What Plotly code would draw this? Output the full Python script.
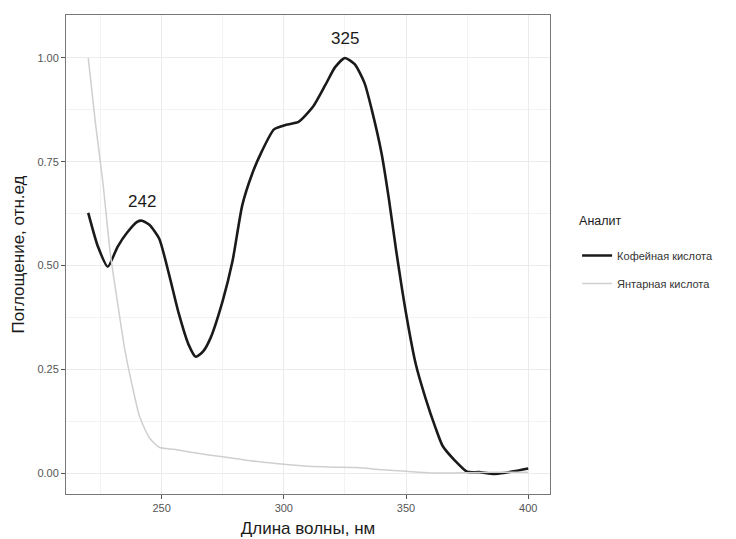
import plotly.graph_objects as go

# Caffeic acid (black)
wl_caffeic = [220, 224, 228, 232, 236, 240, 242, 245, 249, 253, 257, 261, 264, 267, 270,
              275, 279, 283, 287, 291, 296, 301, 306, 312, 317, 321, 325, 329, 333, 336,
              340, 343, 346, 350, 354, 358, 362, 365, 370, 375, 380, 386, 390, 394, 400]
abs_caffeic = [0.627, 0.545, 0.497, 0.545, 0.58, 0.605, 0.608, 0.598, 0.565, 0.48, 0.385,
               0.31, 0.28, 0.293, 0.325, 0.415, 0.51, 0.645, 0.72, 0.775, 0.828, 0.839,
               0.846, 0.883, 0.935, 0.978, 1.0, 0.985, 0.94, 0.875, 0.77, 0.66, 0.535,
               0.385, 0.262, 0.18, 0.11, 0.065, 0.03, 0.003, 0.002, -0.002, 0.0, 0.004, 0.011]

# Succinic acid (grey)
wl_succinic = [220, 223, 226, 229, 232, 235, 238, 241, 245, 249, 255, 262, 270, 280, 290,
               300, 310, 320, 330, 340, 350, 360, 370, 380, 390, 400]
abs_succinic = [1.0, 0.84, 0.70, 0.53, 0.41, 0.296, 0.21, 0.136, 0.085, 0.062, 0.057, 0.05,
                0.043, 0.035, 0.027, 0.021, 0.016, 0.014, 0.013, 0.008, 0.004, 0.0, 0.0,
                0.001, 0.002, 0.002]

series_names = ["Кофейная кислота", "Янтарная кислота"]
peak_wl = [242, 325]
peak_abs = [0.608, 1.0]
x_ticks = [250, 300, 350, 400]
y_ticks = [0.0, 0.25, 0.5, 0.75, 1.0]
y_ticklabels = ["0.00", "0.25", "0.50", "0.75", "1.00"]

FONT = "Liberation Sans, Arial, Helvetica, sans-serif"

fig = go.Figure()
fig.add_trace(go.Scatter(x=wl_caffeic, y=abs_caffeic, mode="lines", name=series_names[0],
                         legendgroup="a",
                         line=dict(color="#1a1a1a", width=2.6, shape="spline", smoothing=0.6)))
fig.add_trace(go.Scatter(x=wl_succinic, y=abs_succinic, mode="lines", name=series_names[1],
                         legendgroup="b",
                         line=dict(color="#cfcfcf", width=1.5, shape="spline", smoothing=0.6)))

for w, a in zip(peak_wl, peak_abs):
    fig.add_annotation(x=w, y=a + 0.046, text=str(w), showarrow=False, xref="x", yref="y",
                       font=dict(size=17, color="#1a1a1a", family=FONT))

axis_common = dict(showline=True, mirror=True, linecolor="#777777", linewidth=1,
                   ticks="outside", ticklen=4, tickcolor="#555555", tickwidth=1,
                   showgrid=True, gridcolor="#ebebeb", gridwidth=1, zeroline=False,
                   tickfont=dict(size=11, color="#555555", family=FONT),
                   automargin=False)

fig.update_xaxes(range=[210.9, 408.9], tickvals=x_ticks,
                 minor=dict(showgrid=True, dtick=25, tick0=0, gridcolor="#f3f3f3", gridwidth=1),
                 title=dict(text="Длина волны, нм", standoff=8,
                            font=dict(size=17, color="#1a1a1a", family=FONT)),
                 **axis_common)
fig.update_yaxes(range=[-0.0506, 1.1036], tickvals=y_ticks, ticktext=y_ticklabels,
                 minor=dict(showgrid=True, dtick=0.125, tick0=0, gridcolor="#f3f3f3", gridwidth=1),
                 title=dict(text="Поглощение, отн.ед", standoff=8,
                            font=dict(size=17, color="#1a1a1a", family=FONT)),
                 **axis_common)

fig.update_layout(
    width=736, height=539,
    margin=dict(l=66, r=186, t=15, b=45),
    paper_bgcolor="white", plot_bgcolor="white",
    font=dict(family=FONT),
    legend=dict(x=1.056, xanchor="left", y=0.596, yanchor="top",
                title=dict(text="Аналит<br> ", font=dict(size=12.5, color="#1a1a1a", family=FONT)),
                font=dict(size=11, color="#333333", family=FONT),
                traceorder="grouped", tracegroupgap=9,
                bgcolor="rgba(0,0,0,0)"),
)

fig.write_html("out.html", post_script="document.body.style.margin='0';",
               config={"displayModeBar": False})
